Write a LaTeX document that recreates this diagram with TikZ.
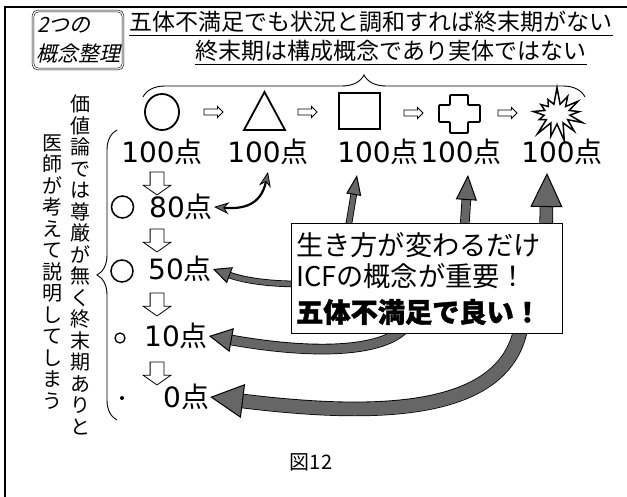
\documentclass[tikz,border=0pt]{standalone}
\usepackage{fontspec}
\setmainfont{Noto Sans CJK JP}
\newfontfamily\dv{DejaVu Sans}
\newfontfamily\jpit{Noto Sans CJK JP}[FakeSlant=0.22]
\usetikzlibrary{arrows.meta,shapes.arrows,shapes.symbols,decorations.pathreplacing}
\definecolor{arrowgray}{gray}{0.40}
% #1 shaft width, #2 outline width, #3 head length, #4 head width, #5 shorten, #6 path
\newcommand\fatarrow[6]{%
  \draw[black, line width=#2, shorten >=#5] #6;
  \draw[arrowgray, line width=#1, -{Triangle[length=#3, width=#4, fill=arrowgray, color=black, line width=1pt]}] #6;
}
\begin{document}
\begin{tikzpicture}[x=1pt,y=-1pt,
  lbl/.style={inner sep=1pt, font=\fontsize{28}{30}\selectfont},
  plbl/.style={lbl, anchor=west},
  rarr/.style={single arrow, draw, line width=0.8pt, inner sep=2.6pt, single arrow head extend=2.6pt, minimum height=19pt},
  darr/.style={single arrow, draw, line width=0.8pt, inner sep=6.5pt, single arrow head extend=7pt, minimum height=23pt, single arrow tip angle=110, shape border rotate=270},
  vtext/.style={align=center, inner sep=0pt, font=\fontsize{20}{21.5}\selectfont},
  shp/.style={draw, line width=1.8pt},
  boxtxt/.style={anchor=west, inner sep=0pt, font=\fontsize{27.2}{28}\selectfont},
  ttl/.style={inner sep=0pt, font=\fontsize{23}{24}\selectfont},
  ttlit/.style={anchor=west, inner sep=0pt, font=\jpit\fontsize{21}{22}\selectfont}]
\useasboundingbox (0,0) rectangle (627,497);
\fill[white] (0,0) rectangle (627,497);
% outer frame
\draw[line width=1.2pt] (5,497) -- (5,7) -- (627,7);
% title box
\draw[line width=0.6pt, double, double distance=1.2pt, rounded corners=5pt] (33,11) rectangle (123,69);
\node[ttlit] (tA) at (37,25) {2つの};
\node[ttlit] (tB) at (36,54) {概念整理};
\node[ttl] (l1) at (371,22) {五体不満足でも状況と調和すれば終末期がない};
\draw[line width=1pt] ([yshift=-3pt]l1.south west) -- ([yshift=-3pt]l1.south east);
\node[ttl] (l2) at (391,51) {終末期は構成概念であり実体ではない};
\draw[line width=1pt] ([yshift=-3pt]l2.south west) -- ([yshift=-3pt]l2.south east);
% top brace
\draw[line width=0.9pt, decorate, decoration={brace, amplitude=22pt, aspect=0.5}] (143,97) -- (585,97);
% shapes row
\draw[shp] (162,112) ellipse [x radius=17, y radius=18];
\draw[shp] (244,130) -- (285,130) -- (264.5,92) -- cycle;
\draw[shp] (339,93) rectangle (380,129);
\draw[shp, rounded corners=1pt] (450,95) -- (468,95) -- (468,105) -- (480,105) -- (480,122) -- (468,122) -- (468,133) -- (450,133) -- (450,122) -- (439,122) -- (439,105) -- (450,105) -- cycle;
\node[starburst, draw, line width=1.5pt, minimum width=62pt, minimum height=56pt, starburst points=13, starburst point height=18pt, random starburst=7] (s5) at (557,114) {};
\node[rarr] (r1) at (212,112) {};
\node[rarr] (r2) at (306,112) {};
\node[rarr] (r3) at (412,113) {};
\node[rarr] (r4) at (506,113) {};
% 100 labels
\node[lbl] (p1) at (162,152) {{\dv 100}点};
\node[lbl] (p2) at (268,152) {{\dv 100}点};
\node[lbl] (p3) at (378,152) {{\dv 100}点};
\node[lbl] (p4) at (461,152) {{\dv 100}点};
\node[lbl] (p5) at (562,152) {{\dv 100}点};
% left column
\node[darr] (d1) at (157,181) {};
\node[darr] (d2) at (157,238) {};
\node[darr] (d3) at (157,302) {};
\node[darr] (d4) at (157,371) {};
\draw[line width=1.5pt] (122.5,207) circle [radius=11];
\draw[line width=1.5pt] (122,271) circle [radius=11];
\draw[line width=1.3pt] (120,338) circle [radius=5];
\fill (122,398) circle [radius=2];
\node[plbl] (p80) at (148,207) {{\dv 80}点};
\node[plbl] (p50) at (147,269) {{\dv 50}点};
\node[plbl] (p10) at (143,336) {{\dv 10}点};
\node[plbl] (p0) at (162,397) {{\dv 0}点};
% left brace
\draw[line width=0.9pt, decorate, decoration={brace, amplitude=20pt, aspect=0.5}] (117,420) -- (117,130);
% vertical texts
\node[vtext] (v1) at (80,265) {価\\値\\論\\で\\は\\尊\\厳\\が\\無\\く\\終\\末\\期\\あ\\り\\と};
\node[vtext] (v2) at (52,272) {医\\師\\が\\考\\え\\て\\説\\明\\し\\て\\し\\ま\\う};
% coordinates
\coordinate (tE) at (357,175);
\coordinate (tF) at (468,175);
\coordinate (tG) at (547,173);
% arrows
\draw[line width=2.2pt, {Stealth[length=15pt,width=12pt,fill=arrowgray,color=black,line width=0.8pt]}-{Stealth[length=15pt,width=12pt,fill=arrowgray,color=black,line width=0.8pt]}] (p80.east) .. controls (250,210) and (262,200) .. (268,172);
\fatarrow{5pt}{6.6pt}{18pt}{17pt}{16pt}{(300,284) .. controls (262,284) and (240,279) .. (p50.east)}
\fatarrow{9pt}{10.6pt}{23pt}{24pt}{21pt}{(410,320) .. controls (395,352) and (320,356) .. (p10.east)}
\fatarrow{13pt}{14.6pt}{33pt}{34pt}{31pt}{(522,320) .. controls (512,415) and (380,418) .. (p0.east)}
\fatarrow{5pt}{6.6pt}{20pt}{15pt}{18pt}{(347,235) -- (tE)}
\fatarrow{8pt}{9.6pt}{25pt}{21pt}{23pt}{(464,235) -- (tF)}
\fatarrow{12pt}{13.6pt}{34pt}{32pt}{32pt}{(546,235) -- (tG)}
% text box
\node[draw, fill=white, line width=0.8pt, minimum width=271pt, minimum height=110pt, inner sep=0pt] (bx) at (426.5,278) {};
\node[boxtxt] (b1) at (296,245) {生き方が変わるだけ};
\node[boxtxt] (b2) at (296,276) {ICFの概念が重要！};
\node[boxtxt] (b3) at (296,312) {\bfseries\addfontfeature{FakeBold=1.5}五体不満足で良い！};
% caption
\node[inner sep=0pt, font=\fontsize{20}{22}\selectfont] (fig) at (311,462) {図12};
\end{tikzpicture}
\end{document}
